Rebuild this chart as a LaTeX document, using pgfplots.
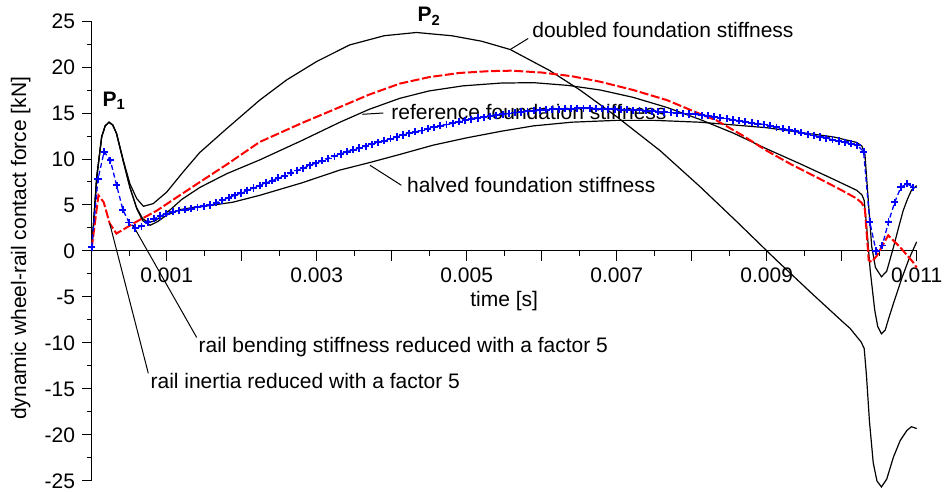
\documentclass[border=0pt]{standalone}
\usepackage{pgfplots}
\pgfplotsset{compat=1.18}
\usepackage{pgfplotstable}
\usepackage{fontspec}
\setmainfont{Liberation Sans}

\pgfplotstableread{
t F
0 0
0.067 8.0
0.133 12.4
0.18 13.6
0.23 14.0
0.28 13.7
0.33 12.8
0.42 9.9
0.51 7.3
0.60 5.7
0.69 4.86
0.82 5.15
1.00 6.4
1.22 8.6
1.44 10.7
1.80 13.3
2.24 16.4
2.60 18.6
3.00 20.6
3.44 22.4
3.90 23.4
4.33 23.75
4.80 23.4
5.20 22.8
5.58 21.9
6.11 19.6
6.51 17.5
7.00 14.6
7.58 10.9
8.11 7.0
8.60 3.2
9.13 -1.0
9.60 -4.6
10.00 -7.6
10.11 -8.4
10.20 -9.3
10.26 -9.9
10.30 -10.6
10.33 -13.5
10.37 -18.5
10.42 -23.0
10.47 -25.0
10.53 -25.65
10.60 -24.8
10.69 -22.4
10.78 -20.6
10.87 -19.5
10.93 -19.1
11.00 -19.3
}\doubled

\pgfplotstableread{
t F
0 0
0.067 8.0
0.133 12.4
0.18 13.6
0.23 14.0
0.28 13.7
0.33 12.8
0.42 9.8
0.51 6.9
0.60 4.7
0.68 3.5
0.76 3.1
0.85 3.3
0.95 3.9
1.05 4.5
1.20 5.6
1.44 6.9
1.80 8.4
2.24 9.9
2.80 12.0
3.31 14.0
3.70 15.4
4.11 16.6
4.50 17.4
4.95 17.95
5.45 18.25
5.89 18.3
6.35 18.0
6.78 17.5
7.22 16.7
7.67 15.6
8.11 14.3
8.56 12.8
9.00 11.1
9.44 9.5
9.89 7.8
10.20 6.6
10.27 6.1
10.30 5.5
10.34 2.0
10.38 -2.1
10.44 -6.4
10.48 -8.2
10.53 -9.0
10.58 -8.6
10.62 -7.5
10.69 -5.7
10.80 -3.0
10.90 -0.8
11.00 1.0
}\reference

\pgfplotstableread{
t F
0 0
0.067 8.0
0.133 12.4
0.18 13.6
0.23 14.0
0.28 13.7
0.33 12.8
0.42 9.8
0.51 6.9
0.60 4.6
0.68 3.3
0.78 2.8
0.88 3.2
1.00 3.9
1.18 4.5
1.40 4.8
1.58 4.95
1.88 5.3
2.24 6.05
2.80 7.4
3.31 8.8
3.70 9.6
4.11 10.5
4.55 11.5
5.00 12.3
5.45 13.0
5.89 13.6
6.40 14.0
7.00 14.2
7.50 14.2
8.11 14.0
8.56 13.7
9.00 13.4
9.44 12.9
9.89 12.4
10.20 11.8
10.27 11.4
10.31 10.5
10.35 6.0
10.40 0.5
10.45 -1.8
10.53 -2.8
10.60 -2.2
10.69 0.4
10.76 2.6
10.82 4.4
10.88 5.7
10.93 6.6
11.00 7.1
}\halved

\pgfplotstableread{
t F
0 0.3
0.09 6.05
0.16 5.3
0.24 3.0
0.33 1.9
0.60 3.2
0.87 4.4
1.35 7.0
1.80 9.4
2.24 11.85
2.80 13.9
3.31 15.65
3.70 17.0
4.11 18.2
4.50 18.9
4.90 19.35
5.30 19.55
5.60 19.6
6.00 19.4
6.40 19.0
6.78 18.4
7.22 17.5
7.67 16.4
8.11 14.9
8.33 14.2
8.67 12.6
9.00 10.9
9.33 9.4
9.67 8.0
10.00 6.6
10.20 5.7
10.27 5.2
10.31 4.5
10.36 -1.0
10.40 -1.2
10.47 -0.5
10.62 1.7
10.78 0.4
10.95 -1.2
11.00 -1.8
}\inertia

\pgfplotstableread{
t F
0.000 0.4
0.083 7.8
0.166 10.8
0.249 9.85
0.332 7.15
0.415 4.5
0.498 3.1
0.581 2.5
0.664 2.7
0.747 3.15
0.830 3.5
0.913 3.8
0.996 4.05
1.079 4.25
1.162 4.4
1.245 4.5
1.328 4.6
1.411 4.75
1.494 4.85
1.577 5.0
1.660 5.25
1.743 5.5
1.826 5.8
1.909 6.05
1.992 6.3
2.075 6.6
2.158 6.85
2.241 7.1
2.324 7.4
2.407 7.65
2.490 7.95
2.573 8.2
2.656 8.5
2.739 8.75
2.822 9.0
2.905 9.3
2.988 9.55
3.071 9.8
3.154 10.05
3.237 10.3
3.320 10.55
3.403 10.8
3.486 11.0
3.569 11.2
3.652 11.4
3.735 11.6
3.818 11.8
3.901 12.0
3.984 12.2
4.067 12.4
4.150 12.6
4.233 12.8
4.316 12.95
4.399 13.1
4.482 13.3
4.565 13.45
4.648 13.6
4.731 13.75
4.814 13.9
4.897 14.05
4.980 14.2
5.063 14.3
5.146 14.45
5.229 14.55
5.312 14.65
5.395 14.75
5.478 14.85
5.561 14.95
5.644 15.05
5.727 15.1
5.810 15.2
5.893 15.25
5.976 15.3
6.059 15.35
6.142 15.4
6.225 15.4
6.308 15.45
6.391 15.45
6.474 15.5
6.557 15.5
6.640 15.5
6.723 15.45
6.806 15.45
6.889 15.4
6.972 15.4
7.055 15.35
7.138 15.35
7.221 15.3
7.304 15.3
7.387 15.25
7.470 15.2
7.553 15.15
7.636 15.1
7.719 15.05
7.802 15.0
7.885 14.95
7.968 14.9
8.051 14.85
8.134 14.75
8.217 14.7
8.300 14.6
8.383 14.5
8.466 14.4
8.549 14.25
8.632 14.15
8.715 14.05
8.798 13.95
8.881 13.85
8.964 13.75
9.047 13.6
9.130 13.45
9.213 13.3
9.296 13.15
9.379 13.0
9.462 12.85
9.545 12.7
9.628 12.55
9.711 12.4
9.794 12.25
9.877 12.1
9.960 11.95
10.043 11.8
10.126 11.65
10.209 11.5
10.292 10.8
10.375 3.15
10.458 0.0
10.541 0.6
10.624 3.15
10.707 5.3
10.790 6.95
10.873 7.3
10.956 6.9
}\bending

\begin{document}
\begin{tikzpicture}[font=\fontsize{10.5}{12.6}\selectfont]
\begin{axis}[
  scale only axis,
  width=412.5pt, height=230pt,
  xmin=0, xmax=11, ymin=-25, ymax=25,
  axis x line*=middle, axis y line*=left,
  axis line style={black, line width=0.5pt},
  clip=false,
  xtick={0,1,...,11},
  xticklabels={,0.001,,0.003,,0.005,,0.007,,0.009,,0.011},
  minor x tick num=1,
  ytick={-25,-20,...,25},
  minor y tick num=1,
  tick align=outside,
  major tick length=4.8pt, minor tick length=2.4pt,
  tick style={black, line width=0.5pt},
  hide obscured x ticks=false, hide obscured y ticks=false,
  /pgf/number format/assume math mode=true,
  tick label style={font=\fontsize{10.5}{12.6}\selectfont},
]
\coordinate (SW) at (axis cs:0,-25);

\addplot[black, line width=0.6pt] table[x=t,y=F] {\doubled};
\addplot[black, line width=0.6pt] table[x=t,y=F] {\reference};
\addplot[black, line width=0.6pt] table[x=t,y=F] {\halved};
\addplot[red, line width=1pt, dash pattern=on 4.5pt off 1.3pt] table[x=t,y=F] {\inertia};
\addplot[blue, line width=0.65pt, dash pattern=on 2.5pt off 1.5pt, mark=+, mark size=1.8pt, mark options={solid, line width=0.95pt}] table[x=t,y=F] {\bending};

% leader lines
\draw[black, line width=0.5pt] (axis cs:5.58,21.9) -- (axis cs:5.82,23.1);
\draw[black, line width=0.5pt] (axis cs:3.61,14.86) -- (axis cs:3.89,15.0);
\draw[black, line width=0.5pt] (axis cs:3.71,9.32) -- (axis cs:4.13,7.14);
\draw[black, line width=0.5pt] (axis cs:0.55,2.8) -- (axis cs:1.40,-9.4);
\draw[black, line width=0.5pt] (axis cs:0.24,3.0) -- (axis cs:0.755,-13.3);

% annotations
\node[anchor=base west, inner sep=0pt] at (axis cs:5.87,23.26) {doubled foundation stiffness};
\node[anchor=base west, inner sep=0pt] at (axis cs:3.99,14.3) {reference foundation stiffness};
\node[anchor=base west, inner sep=0pt] at (axis cs:4.2,6.4) {halved foundation stiffness};
\node[anchor=base west, inner sep=0pt] at (axis cs:1.42,-10.98) {rail bending stiffness reduced with a factor 5};
\node[anchor=base west, inner sep=0pt] at (axis cs:0.78,-14.9) {rail inertia reduced with a factor 5};
\node[anchor=base, inner sep=0pt, font=\fontsize{10.5}{12.6}\selectfont\bfseries] at (axis cs:0.30,15.7) {P\textsubscript{1}};
\node[anchor=base, inner sep=0pt, font=\fontsize{10.5}{12.6}\selectfont\bfseries] at (axis cs:4.50,24.9) {P\textsubscript{2}};
\node[anchor=center, inner sep=0pt] at (axis cs:5.5,-5.4) {time [s]};
\node[anchor=center, inner sep=0pt, rotate=90] at (axis cs:-0.947,0.3) {dynamic wheel-rail contact force [kN]};
\end{axis}
\pgfresetboundingbox
\path[use as bounding box] (SW) ++(-45.85pt,-5.5pt) rectangle ++(472pt,246pt);
\end{tikzpicture}
\end{document}
